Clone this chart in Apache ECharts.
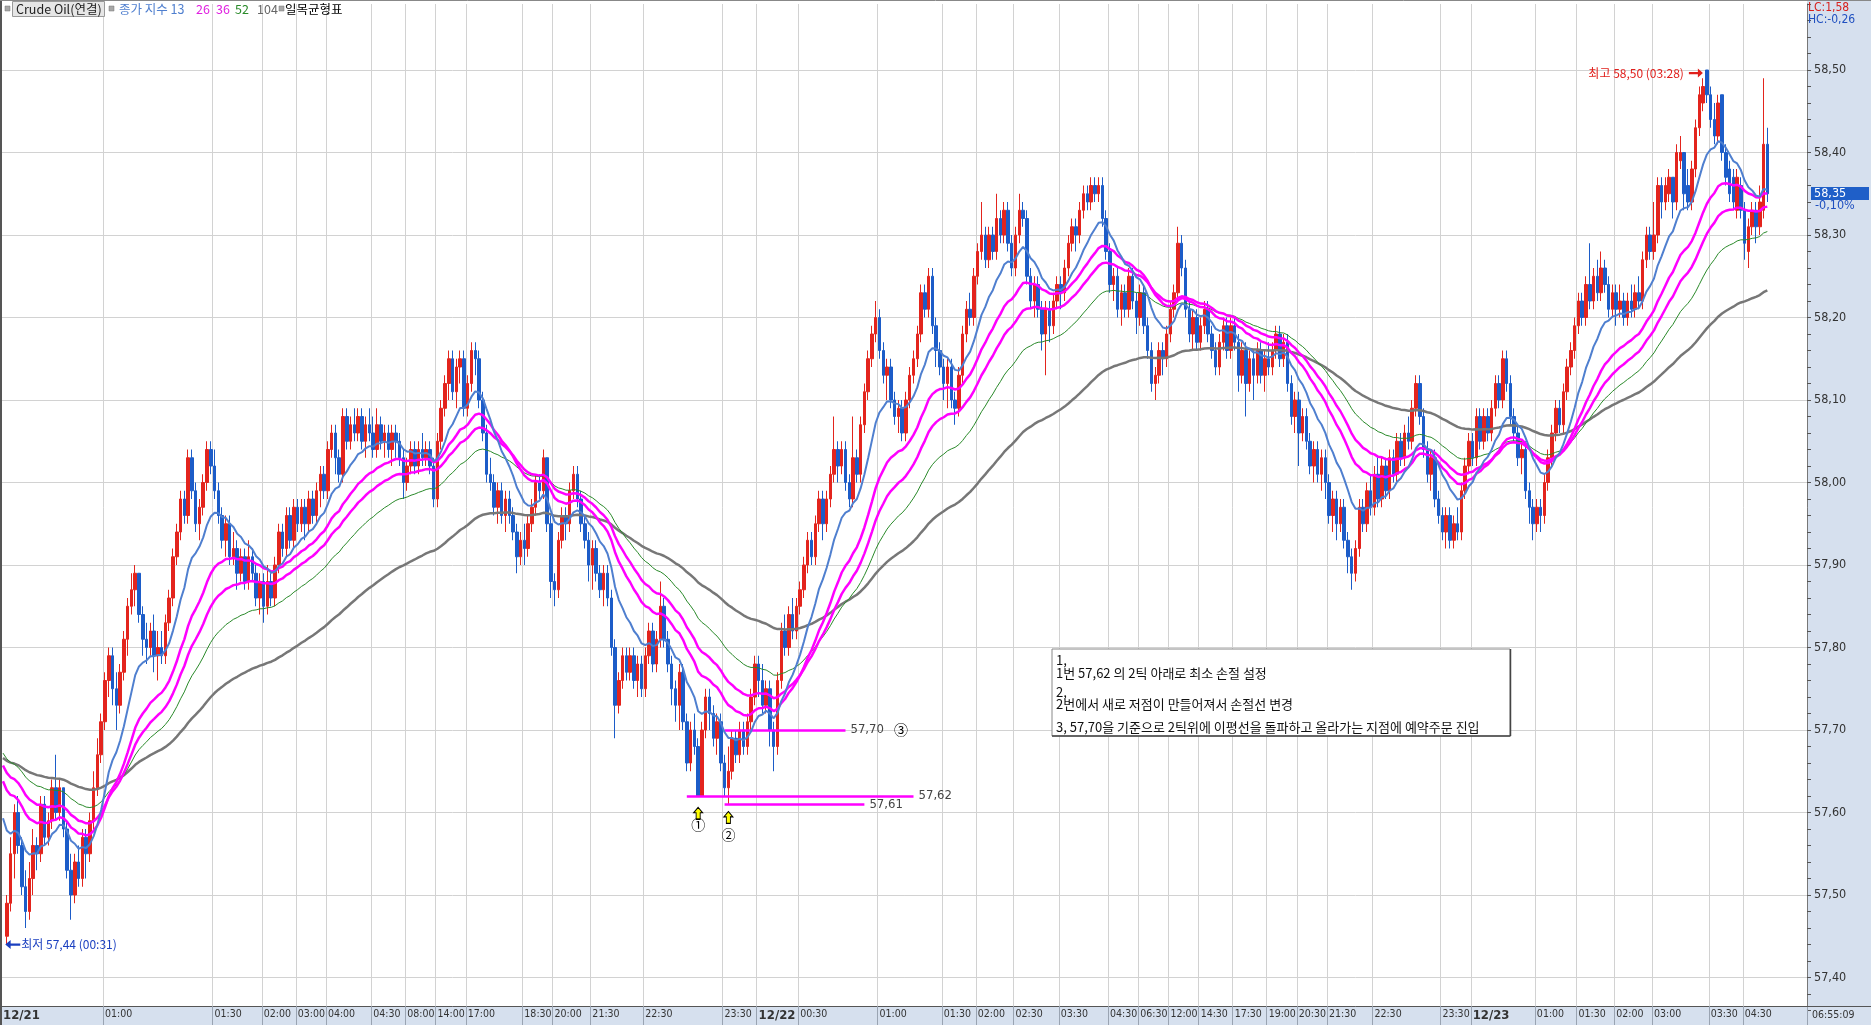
<!DOCTYPE html>
<html><head><meta charset="utf-8">
<script src="https://cdn.jsdelivr.net/npm/echarts@6/dist/echarts.min.js"></script>
<style>html,body{margin:0;padding:0;background:#fff;}#c{width:1871px;height:1025px;}</style>
</head><body><div id="c"></div>
<script>
// ---- tick labels (category index on the time axis) ----
const tickIdx = [0,27,56,69,78,86,98,107,115,123,138,146,156,170,191,200,211,232,249,258,268,280,293,301,309,317,326,335,343,351,363,381,389,406,417,427,437,452,461];
const tickLabels = ['12/21','01:00','01:30','02:00','03:00','04:00','04:30','08:00','14:00','17:00','18:30','20:00','21:30','22:30','23:30','12/22','00:30','01:00','01:30','02:00','02:30','03:30','04:30','06:30','12:00','14:30','17:30','19:00','20:30','21:30','22:30','23:30','12/23','01:00','01:30','02:00','03:00','03:30','04:30'];
const categoryCount = 478;
// ---- prices in cents above 57.00 ----
const opens = [45,49,55,60,56,51,48,52,56,55,61,57,59,63,60,63,58,53,50,54,52,57,55,59,63,67,71,76,79,75,73,77,81,85,87,89,84,81,80,82,79,80,79,83,86,91,94,98,96,103,99,95,97,100,104,102,99,96,93,95,91,92,89,91,88,91,89,86,88,85,88,86,90,94,92,96,93,97,95,97,95,98,96,99,101,99,104,106,103,101,108,105,107,106,108,105,107,106,104,107,105,106,104,106,105,103,100,102,104,102,104,103,104,102,98,105,109,112,115,111,114,115,109,112,116,115,110,106,101,100,97,99,96,98,96,94,91,93,92,95,97,100,99,103,95,88,87,93,96,95,99,101,98,95,93,90,92,89,87,89,86,80,73,76,79,77,79,76,78,75,79,82,78,81,85,81,78,75,73,77,71,66,70,68,62,70,74,72,69,71,66,63,65,69,67,70,68,71,74,78,76,73,75,70,68,76,82,80,84,82,85,87,90,93,91,95,98,95,98,101,104,102,104,100,98,103,101,107,111,115,118,120,116,113,114,110,108,109,106,110,113,115,118,123,121,125,119,116,114,112,114,110,109,113,118,121,120,125,128,130,127,130,128,132,130,133,129,126,130,133,132,125,122,124,121,118,121,119,122,124,123,126,129,131,130,133,135,134,136,135,136,132,128,124,125,121,123,121,125,122,120,123,119,116,112,113,116,115,118,121,123,129,126,121,118,120,117,119,121,118,116,114,117,119,116,119,117,113,116,112,115,113,116,113,115,114,116,118,115,117,112,108,110,106,108,105,102,104,101,103,100,96,98,95,97,93,91,89,92,97,95,99,97,101,98,102,99,103,101,105,103,106,105,109,112,108,104,101,103,98,96,94,96,93,95,94,99,102,105,103,108,105,108,106,109,112,110,115,112,108,106,103,104,99,97,95,97,96,100,103,106,109,107,111,114,116,119,122,120,124,122,125,123,126,124,121,123,121,122,120,122,121,123,122,127,130,128,130,136,134,135,137,134,139,140,136,134,138,143,146,150,147,144,142,147,140,138,137,133,136,133,128,131,133,131,133,141];
const highs = [50,57,61,62,57,53,54,58,57,62,62,60,64,67,64,63,59,55,55,56,58,58,60,65,69,72,77,80,80,77,78,82,86,89,90,89,85,83,83,84,82,82,84,87,92,95,99,99,104,104,100,98,101,105,105,104,100,97,96,96,94,93,92,92,93,92,90,89,89,90,89,91,95,95,97,97,98,98,98,98,99,99,100,102,102,105,107,107,104,109,109,108,109,109,109,108,109,108,109,108,107,107,107,107,106,104,103,105,105,105,106,105,105,103,106,110,113,116,116,115,116,116,113,117,117,116,111,107,103,101,100,100,99,99,97,95,94,95,96,98,101,101,104,103,96,89,94,97,97,100,102,102,99,96,94,93,93,90,90,90,87,81,77,80,80,80,80,79,79,80,83,83,82,88,86,82,79,76,78,78,72,71,72,69,71,75,75,73,72,72,67,68,70,70,71,71,72,75,79,79,78,76,76,71,77,83,84,85,86,86,88,91,94,94,96,99,99,99,102,108,105,105,105,101,108,104,108,112,116,119,122,121,117,115,115,111,110,110,111,114,116,119,124,124,126,126,120,117,115,115,115,111,114,119,122,123,126,129,134,131,131,131,135,133,134,134,130,131,135,134,133,126,125,125,122,122,122,123,125,125,127,130,132,132,134,136,136,137,137,137,137,133,129,126,126,124,124,126,126,123,124,124,120,117,114,117,117,119,122,124,131,130,127,122,121,121,120,122,122,119,117,118,120,120,120,120,118,117,117,116,116,117,117,116,117,117,119,119,118,118,113,111,111,109,109,106,105,105,104,104,101,99,99,98,98,94,92,93,98,98,100,101,102,103,103,103,104,104,106,106,107,108,110,113,113,109,105,104,104,99,97,97,97,96,97,100,103,106,106,109,109,109,109,110,113,113,116,116,113,109,107,105,105,100,98,98,98,101,104,107,110,110,112,115,117,120,123,123,125,129,126,127,128,127,125,124,124,124,123,123,124,124,125,128,131,131,134,137,137,137,138,137,141,142,140,138,139,144,148,149,150,148,146,147,147,141,139,138,138,137,134,132,134,134,136,149,143];
const lows = [44,48,52,55,50,46,47,50,53,54,56,56,58,59,59,57,52,47,49,51,51,52,54,58,62,66,70,74,73,70,72,76,79,84,85,83,79,78,79,77,76,78,78,82,85,90,93,95,95,98,94,93,96,99,101,98,95,92,91,90,90,87,88,87,87,88,85,84,83,84,85,85,89,91,91,92,92,94,94,93,94,95,95,97,98,98,103,101,100,100,104,104,105,105,104,103,105,103,103,104,103,103,102,103,102,98,99,101,101,101,102,102,101,97,97,104,108,110,110,109,112,108,108,111,113,109,105,100,99,96,95,95,94,95,93,89,90,90,91,94,96,98,98,94,86,85,86,92,93,94,98,97,94,92,88,87,88,86,85,85,79,69,72,75,76,76,75,74,74,74,78,77,77,80,80,77,73,71,70,70,65,65,67,62,62,69,70,68,67,65,62,61,64,66,66,67,67,70,73,74,72,72,68,65,67,75,79,79,81,81,84,86,89,90,90,94,93,94,97,100,100,101,99,97,97,100,100,106,110,114,117,115,112,110,109,107,106,105,105,109,112,114,117,120,120,118,114,113,110,109,109,107,108,112,117,119,119,124,127,126,126,127,127,129,129,128,125,125,129,131,124,121,120,120,116,113,117,118,121,121,122,125,128,128,129,132,133,133,134,134,131,127,123,122,120,119,120,120,121,118,119,118,115,111,110,112,113,114,117,120,122,125,120,117,116,116,116,118,117,115,113,113,116,115,115,116,111,112,108,111,110,112,112,111,113,113,115,114,114,111,107,106,102,105,104,101,100,100,99,98,95,94,93,94,92,89,87,88,91,94,94,96,96,97,97,98,98,100,100,102,102,104,104,108,107,103,100,99,97,95,93,92,92,92,93,93,98,101,102,102,104,104,105,105,108,109,109,111,107,105,102,101,98,95,93,94,94,95,99,102,105,106,106,110,113,115,118,119,119,121,121,122,122,123,120,120,119,120,119,119,120,120,121,121,126,127,127,129,132,133,134,132,133,138,133,133,133,137,142,145,146,143,141,141,139,136,134,133,132,132,127,126,130,129,130,132,134];
const closes = [49,55,60,56,51,48,52,56,55,61,57,59,63,60,63,58,53,50,54,52,57,55,59,63,67,71,76,79,75,73,77,81,85,87,89,84,81,80,82,79,80,79,83,86,91,94,98,96,103,99,95,97,100,104,102,99,96,93,95,91,92,89,91,88,91,89,86,88,85,88,86,90,94,92,96,93,97,95,97,95,98,96,99,101,99,104,106,103,101,108,105,107,106,108,105,107,106,104,107,105,106,104,106,105,103,100,102,104,102,104,103,104,102,98,105,109,112,115,111,114,115,109,112,116,115,110,106,101,100,97,99,96,98,96,94,91,93,92,95,97,100,99,103,95,88,87,93,96,95,99,101,98,95,93,90,92,89,87,89,86,80,73,76,79,77,79,76,78,75,79,82,78,81,85,81,78,75,73,77,71,66,70,68,62,70,74,72,69,71,66,63,65,69,67,70,68,71,74,78,76,73,75,70,68,76,82,80,84,82,85,87,90,93,91,95,98,95,98,101,104,102,104,100,98,103,101,107,111,115,118,120,116,113,114,110,108,109,106,110,113,115,118,123,121,125,119,116,114,112,114,110,109,113,118,121,120,125,128,130,127,130,128,132,130,133,129,126,130,133,132,125,122,124,121,118,121,119,122,124,123,126,129,131,130,133,135,134,136,135,136,132,128,124,125,121,123,121,125,122,120,123,119,116,112,113,116,115,118,121,123,129,126,121,118,120,117,119,121,118,116,114,117,119,116,119,117,113,116,112,115,113,116,113,115,114,116,118,115,117,112,108,110,106,108,105,102,104,101,103,100,96,98,95,97,93,91,89,92,97,95,99,97,101,98,102,99,103,101,105,103,106,105,109,112,108,104,101,103,98,96,94,96,93,95,94,99,102,105,103,108,105,108,106,109,112,110,115,112,108,106,103,104,99,97,95,97,96,100,103,106,109,107,111,114,116,119,122,120,124,122,125,123,126,124,121,123,121,122,120,122,121,123,122,127,130,128,130,136,134,136,137,134,140,140,135,134,138,143,147,148,147,144,142,146,140,137,135,134,137,133,129,131,133,131,134,141,135];
// EMA periods and their values just before the first visible bar
const emaPeriods = [13, 26, 36, 52, 104];
const emaSeeds = [57.593, 57.638, 57.657, 57.672, 57.666];
const emaColors = ['#4f7fcf', '#ff00ff', '#ff00ff', '#2a8a2a', '#777777'];
const emaWidths = [2, 2.5, 2.5, 1, 2.5];
// annotation levels
const levelLines = [ {v:57.70, from:191, to:223, text:'57,70', tag:'③'}, {v:57.62, from:181, to:241, text:'57,62', tag:''}, {v:57.61, from:191, to:228, text:'57,61', tag:''} ];
const pointMarks = [ {idx:184, label:'①'}, {idx:192, label:'②'} ];
const highMark = {idx:451, v:58.50, text:'최고 58,50 (03:28)'};
const lowMark = {idx:1, v:57.44, text:'최저 57,44 (00:31)'};
const memoLines = ['1,', '1번 57,62 의 2틱 아래로 최소 손절 설정', '2,', '2번에서 새로 저점이 만들어져서 손절선 변경', '3, 57,70을 기준으로 2틱위에 이평선을 돌파하고 올라가는 지점에 예약주문 진입'];

const NARROW = "'Liberation Sans Narrow','DejaVu Sans Condensed',sans-serif";
const KR = "'Noto Sans CJK KR','Noto Sans',sans-serif";
const P = c => +(57 + c / 100).toFixed(2);

const cats = []; const labelMap = {};
for (let i = 0; i < categoryCount; i++) cats.push('c' + i);
tickIdx.forEach((t, j) => { labelMap[t] = tickLabels[j]; });
const isTick = i => labelMap[i] !== undefined;

const candleData = opens.map((o, k) => [k + 1, P(o), P(closes[k]), P(lows[k]), P(highs[k])]);

function ema(n, seed) {
  const a = 2 / (n + 1); let e = seed; const out = [[0, seed]];
  closes.forEach((c, k) => { e = e + a * (P(c) - e); out.push([k + 1, +e.toFixed(4)]); });
  return out;
}
const emaSeries = emaPeriods.map((n, j) => ({
  type: 'line', data: ema(n, emaSeeds[j]), showSymbol: false, silent: true, z: 5 + (4 - j),
  lineStyle: { color: emaColors[j], width: emaWidths[j] }, animation: false
}));

const markLineData = levelLines.map(l => [
  { coord: [l.from, l.v] },
  { coord: [l.to, l.v], label: { formatter: l.tag ? '{v|' + l.text + '}{c|' + l.tag + '}' : '{v|' + l.text + '}' } }
]);
const upArrow = 'path://M4,0 L8,4.5 L5.8,4.5 L5.8,10 L2.2,10 L2.2,4.5 L0,4.5 Z';
const markPointData = [];
pointMarks.forEach((p, j) => {
  markPointData.push({ coord: [p.idx, j === 0 ? 57.599 : 57.594], symbol: upArrow, symbolSize: [9, 12],
    itemStyle: { color: '#ffff00', borderColor: '#000', borderWidth: 1 }, label: { show: false } });
  markPointData.push({ coord: [p.idx, j === 0 ? 57.585 : 57.573], symbol: 'circle', symbolSize: 1,
    itemStyle: { color: 'rgba(0,0,0,0)' }, label: { show: true, position: 'inside', formatter: p.label, color: '#000', fontSize: 14, fontFamily: KR } });
});
markPointData.push({ coord: [highMark.idx, highMark.v], symbol: 'path://M0,3 L9,3 L9,0 L14,4 L9,8 L9,5 L0,5 Z', symbolSize: [14, 9], symbolOffset: [-11, 3],
  itemStyle: { color: '#e0201c' }, label: { show: true, position: 'left', distance: 5, formatter: highMark.text, color: '#e0201c', fontSize: 12, fontFamily: KR } });
markPointData.push({ coord: [lowMark.idx, lowMark.v], symbol: 'path://M14,3 L5,3 L5,0 L0,4 L5,8 L5,5 L14,5 Z', symbolSize: [15, 9], symbolOffset: [6, 0],
  itemStyle: { color: '#1a3fc0' }, label: { show: true, position: 'right', distance: 1, formatter: lowMark.text, color: '#1a3fc0', fontSize: 12, fontFamily: KR } });

const T = 'rgba(0,0,0,0)';
const graphics = [
  { type: 'rect', z: -10, shape: { x: 1807, y: 0, width: 64, height: 1025 }, style: { fill: '#d6e0ee' } },
  { type: 'rect', z: -10, shape: { x: 0, y: 1006, width: 1871, height: 19 }, style: { fill: '#d6e0ee' } },
  { type: 'line', z: 20, shape: { x1: 1807, y1: 1006.5, x2: 1871, y2: 1006.5 }, style: { stroke: '#555', lineWidth: 1 } },
  { type: 'line', z: 20, shape: { x1: 1, y1: 0, x2: 1, y2: 1025 }, style: { stroke: '#555', lineWidth: 2 } },
  { type: 'line', z: 20, shape: { x1: 0, y1: 0.5, x2: 1871, y2: 0.5 }, style: { stroke: '#888', lineWidth: 1 } },
  // legend row
  { type: 'rect', z: 20, shape: { x: 5, y: 6, width: 5, height: 5 }, style: { fill: '#a8a8a8', stroke: '#777', lineWidth: 0.5 } },
  { type: 'rect', z: 20, shape: { x: 12.5, y: 1.5, width: 92, height: 15 }, style: { fill: '#e6e6e6', stroke: '#9a9a9a', lineWidth: 1 } },
  { type: 'text', z: 21, style: { text: 'Crude Oil(연결)', x: 16, y: 9.5, fill: '#222', font: '12.5px ' + KR, verticalAlign: 'middle' } },
  { type: 'rect', z: 20, shape: { x: 109, y: 6, width: 5, height: 5 }, style: { fill: '#a8a8a8', stroke: '#777', lineWidth: 0.5 } },
  { type: 'text', z: 21, style: { text: '종가 지수 13', x: 119, y: 9.5, fill: '#4f7fcf', font: '12.5px ' + KR, verticalAlign: 'middle' } },
  { type: 'text', z: 21, style: { text: '26', x: 196, y: 9.5, fill: '#e020e0', font: '12.5px ' + KR, verticalAlign: 'middle' } },
  { type: 'text', z: 21, style: { text: '36', x: 216, y: 9.5, fill: '#e020e0', font: '12.5px ' + KR, verticalAlign: 'middle' } },
  { type: 'text', z: 21, style: { text: '52', x: 235, y: 9.5, fill: '#2a8a2a', font: '12.5px ' + KR, verticalAlign: 'middle' } },
  { type: 'text', z: 21, style: { text: '104', x: 257, y: 9.5, fill: '#666', font: '12.5px ' + KR, verticalAlign: 'middle' } },
  { type: 'rect', z: 20, shape: { x: 279, y: 6, width: 5, height: 5 }, style: { fill: '#a8a8a8', stroke: '#777', lineWidth: 0.5 } },
  { type: 'text', z: 21, style: { text: '일목균형표', x: 285, y: 9.5, fill: '#000', font: '12.5px ' + KR, verticalAlign: 'middle' } },
  // right panel info
  { type: 'text', z: 21, style: { text: 'LC:1,58', x: 1808, y: 7.5, fill: '#d8201c', font: '12px ' + NARROW, verticalAlign: 'middle' } },
  { type: 'text', z: 21, style: { text: 'HC:-0,26', x: 1808, y: 20, fill: '#2050c0', font: '12px ' + NARROW, verticalAlign: 'middle' } },
  { type: 'rect', z: 20, shape: { x: 1811, y: 187, width: 58, height: 13 }, style: { fill: '#1f5fc8' } },
  { type: 'text', z: 21, style: { text: '58,35', x: 1814, y: 193.5, fill: '#fff', font: '12.5px ' + NARROW, verticalAlign: 'middle' } },
  { type: 'text', z: 21, style: { text: '-0,10%', x: 1815, y: 205.5, fill: '#2050c0', font: '12.5px ' + NARROW, verticalAlign: 'middle' } },
  { type: 'text', z: 21, style: { text: '06:55:09', x: 1812, y: 1015.5, fill: '#333', font: '10.5px ' + NARROW, verticalAlign: 'middle' } },
  // memo box
  { type: 'rect', z: 30, shape: { x: 1052, y: 649, width: 458, height: 87 }, style: { fill: '#fff', stroke: '#888', lineWidth: 1 } },
  { type: 'line', z: 31, shape: { x1: 1052, y1: 736, x2: 1510.5, y2: 736 }, style: { stroke: '#444', lineWidth: 1.5 } },
  { type: 'line', z: 31, shape: { x1: 1510.5, y1: 649, x2: 1510.5, y2: 736 }, style: { stroke: '#444', lineWidth: 1.5 } }
];
const memoY = [660, 673, 692, 704, 727];
memoLines.forEach((t, j) => graphics.push({ type: 'text', z: 32, style: { text: t, x: 1056, y: memoY[j], fill: '#111', font: '13px ' + KR, verticalAlign: 'middle' } }));

const chart = echarts.init(document.getElementById('c'), null, { renderer: 'canvas' });
chart.setOption({
  animation: false,
  backgroundColor: '#fff',
  grid: { left: 0, right: 64, top: 4, bottom: 14.5, containLabel: false },
  xAxis: {
    type: 'category', data: cats, boundaryGap: true, offset: -4.5,
    axisLine: { show: true, lineStyle: { color: '#555', width: 1 } },
    axisTick: { show: true, interval: i => isTick(i), length: 19, lineStyle: { color: '#9aa4b2' } },
    axisLabel: { show: true, interval: i => isTick(i), align: 'left', margin: 3, color: '#333', fontSize: 10.5, fontFamily: NARROW,
      formatter: (v, i) => { const s = labelMap[i] || ''; return s.indexOf('/') > 0 ? '{d|' + s + '}' : s; },
      rich: { d: { fontSize: 13, fontWeight: 'bold', color: '#333', fontFamily: NARROW } } },
    splitLine: { show: true, interval: i => isTick(i), lineStyle: { color: '#d2d2d2', width: 1 } }
  },
  yAxis: {
    type: 'value', position: 'right', min: 57.36, max: 58.58, interval: 0.02, scale: true,
    axisLine: { show: true, lineStyle: { color: '#777' } },
    axisTick: { show: true, length: 4, lineStyle: { color: '#555' } },
    axisLabel: { margin: 7, color: '#333', fontSize: 12.5, fontFamily: NARROW,
      formatter: v => (Math.round(v * 100) % 10 === 0 ? v.toFixed(2).replace('.', ',') : '') },
    splitLine: { show: true, lineStyle: { color: [T, T, '#d2d2d2', T, T], width: 1 } }
  },
  graphic: graphics,
  series: [
    {
      type: 'candlestick', data: candleData, encode: { x: 0, y: [1, 2, 3, 4] }, barWidth: 3, z: 3,
      itemStyle: { color: '#e3241d', color0: '#1c5cc8', borderColor: '#e3241d', borderColor0: '#1c5cc8', borderWidth: 1 },
      markLine: { silent: true, symbol: ['none', 'none'], animation: false,
        lineStyle: { color: '#ff00ff', width: 2.5, type: 'solid' },
        label: { show: true, position: 'end', distance: 5,
          rich: { v: { color: '#444', fontSize: 13, fontFamily: NARROW }, c: { color: '#000', fontSize: 14, fontFamily: KR, padding: [0, 0, 0, 10] } } },
        data: markLineData },
      markPoint: { silent: true, animation: false, data: markPointData }
    }
  ].concat(emaSeries)
});
</script></body></html>
